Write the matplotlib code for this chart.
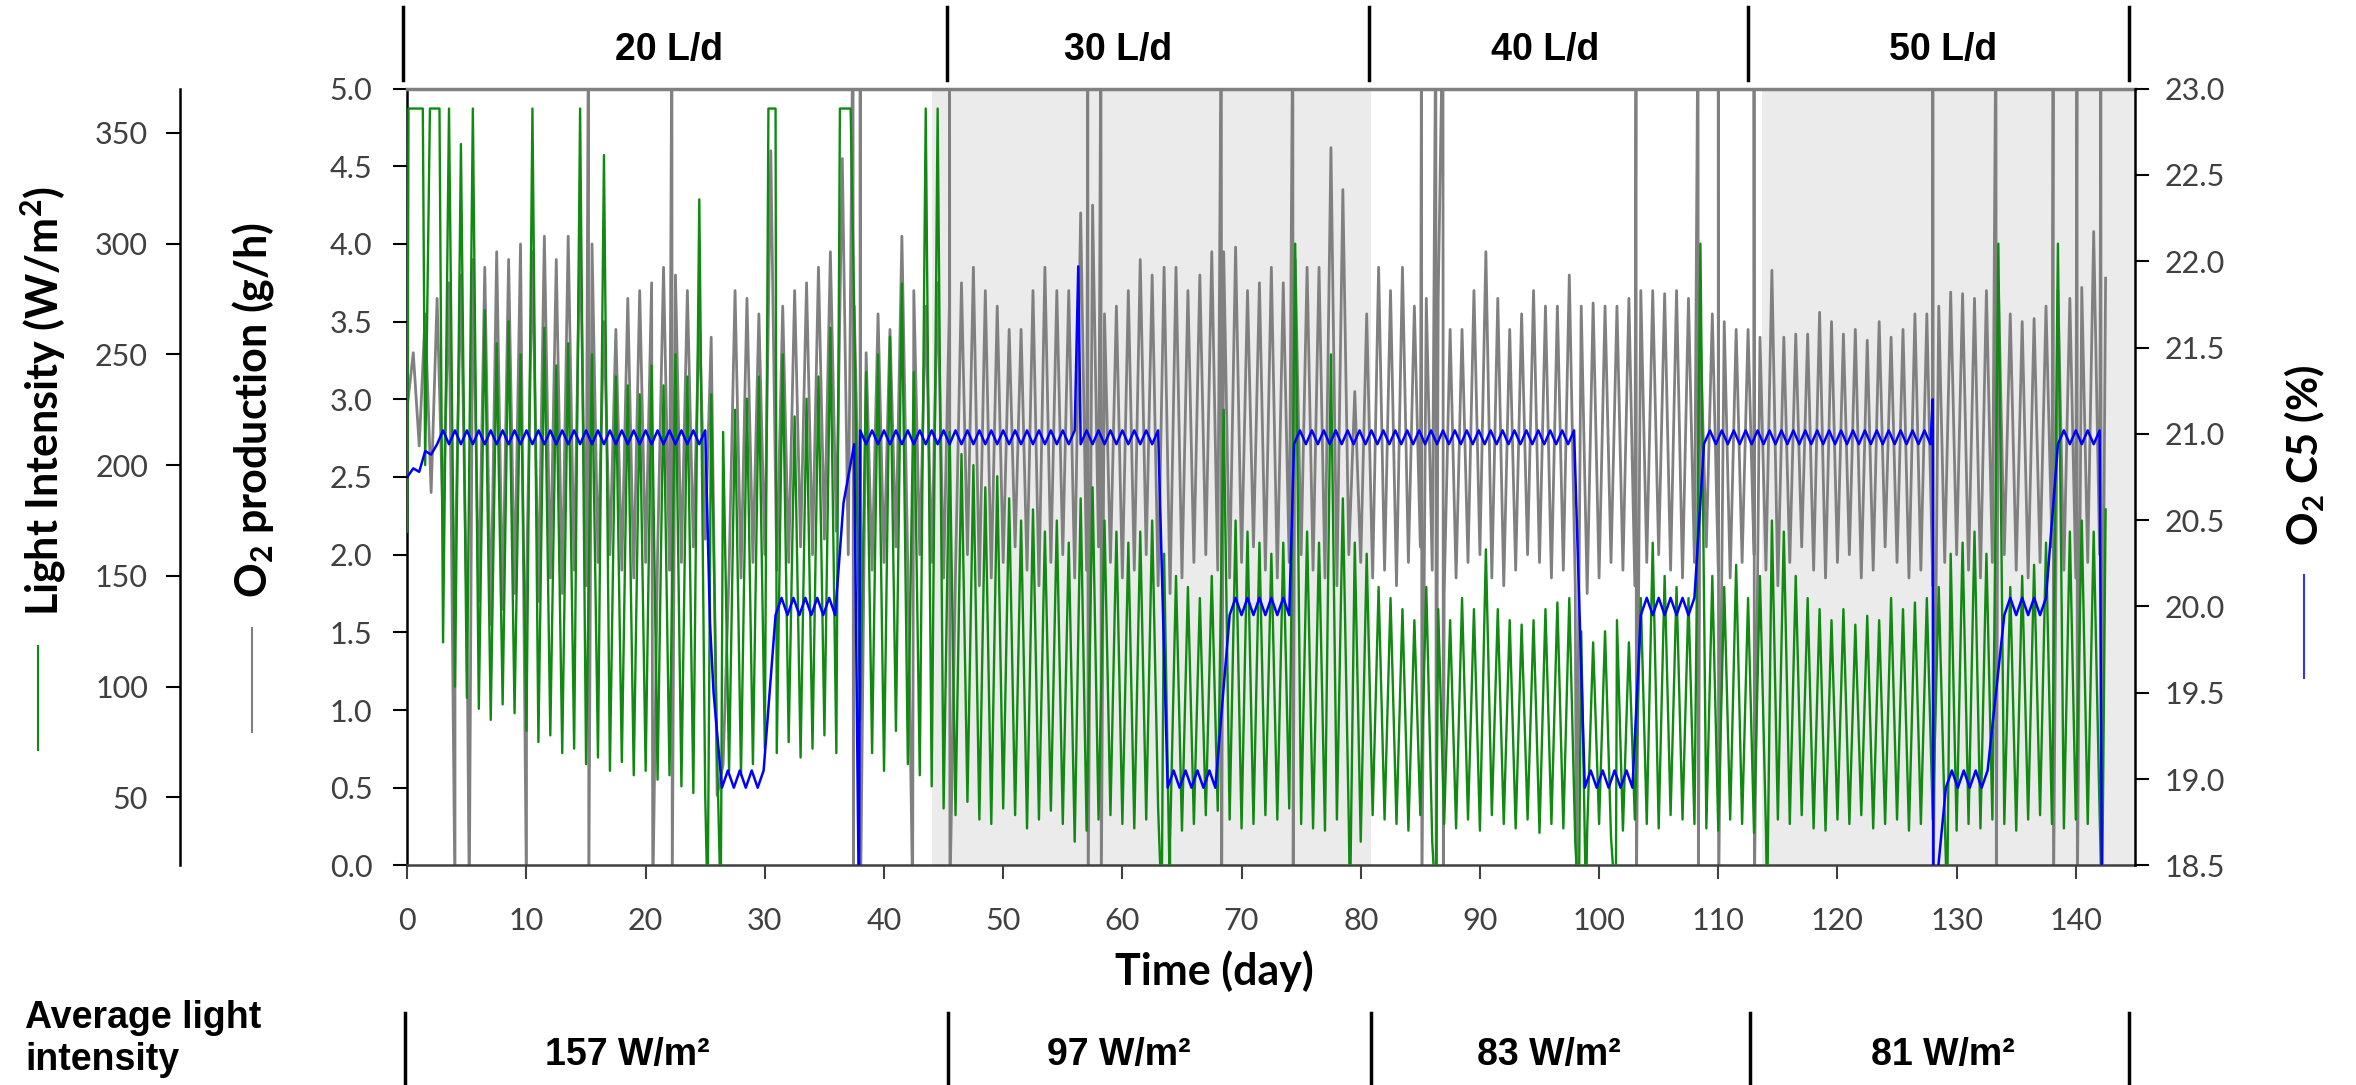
import matplotlib
matplotlib.use('Agg')
import matplotlib.pyplot as plt
from matplotlib.lines import Line2D

plt.rcParams['font.family'] = ['Lato', 'DejaVu Sans']
plt.rcParams['mathtext.fontset'] = 'custom'
plt.rcParams['mathtext.rm'] = 'Lato'
plt.rcParams['mathtext.bf'] = 'Lato:bold'

# daily peak / trough of O2 production (g/h), day 0..142
GRAY_HI = [3.30, 3.55, 3.65, 3.75, 3.80, 3.90, 3.85, 3.95, 3.90, 4.00,
           3.95, 4.05, 3.90, 4.05, 4.10, 4.00, 3.50, 3.45, 3.65, 3.70,
           3.75, 3.85, 3.80, 3.70, 3.55, 3.40, 0.65, 3.70, 3.65, 3.55,
           4.60, 3.60, 3.70, 3.75, 3.85, 3.95, 4.55, 3.60, 3.30, 3.55,
           3.45, 4.05, 3.70, 3.60, 3.75, 3.65, 3.75, 3.85, 3.70, 3.60,
           3.45, 3.45, 3.70, 3.85, 3.70, 3.70, 4.20, 4.25, 3.55, 3.60,
           3.70, 3.90, 3.80, 3.85, 3.85, 3.70, 3.80, 3.95, 3.95, 3.98,
           3.70, 3.75, 3.85, 3.75, 3.90, 3.85, 3.85, 4.62, 4.35, 3.05,
           3.55, 3.85, 3.70, 3.85, 3.60, 3.65, 3.65, 3.45, 3.45, 3.70,
           3.95, 3.65, 3.45, 3.55, 3.70, 3.60, 3.60, 3.80, 3.60, 3.62,
           3.60, 3.60, 3.65, 3.70, 3.70, 3.68, 3.70, 3.65, 3.40, 3.55,
           3.50, 3.45, 3.45, 3.40, 3.83, 3.40, 3.42, 3.42, 3.56, 3.50,
           3.42, 3.45, 3.38, 3.50, 3.40, 3.45, 3.55, 3.55, 3.60, 3.69,
           3.68, 3.65, 3.70, 3.75, 3.55, 3.50, 3.52, 3.60, 3.70, 3.65,
           3.72, 4.08, 3.78]
GRAY_LO = [2.95, 2.70, 2.40, 2.20, 1.90, 1.60, 1.70, 1.55, 1.65, 1.75,
           1.80, 1.70, 1.85, 1.75, 1.90, 1.80, 1.95, 2.00, 1.90, 1.85,
           1.95, 2.00, 1.90, 1.95, 2.05, 2.10, 0.45, 1.90, 1.85, 1.95,
           2.00, 1.90, 1.95, 2.05, 2.00, 2.10, 2.15, 2.00, 1.85, 1.90,
           1.95, 2.05, 1.90, 2.00, 1.95, 1.85, 1.90, 2.00, 1.80, 1.85,
           1.95, 2.05, 1.90, 1.80, 1.95, 2.00, 1.85, 1.90, 2.05, 1.95,
           1.85, 1.90, 2.00, 1.80, 1.75, 1.85, 1.95, 2.00, 1.90, 1.85,
           1.95, 2.05, 1.90, 1.85, 1.95, 2.00, 1.90, 1.85, 1.80, 2.00,
           1.95, 1.85, 1.90, 1.80, 1.95, 2.05, 1.90, 1.75, 1.85, 1.95,
           2.00, 1.85, 1.80, 1.90, 2.00, 1.95, 1.85, 1.90, 1.80, 1.75,
           1.85, 1.95, 1.90, 1.80, 1.95, 2.00, 1.90, 1.85, 1.95, 2.05,
           1.90, 1.85, 1.95, 2.00, 1.90, 1.80, 1.95, 2.05, 1.90, 1.85,
           1.95, 2.00, 1.85, 1.90, 2.05, 1.95, 1.85, 1.90, 1.80, 1.95,
           2.00, 1.90, 1.85, 1.95, 2.00, 1.90, 1.85, 1.95, 2.05, 1.90,
           1.85, 1.95, 2.00]
# days where the O2 signal shoots over the full scale, and where it drops to zero
GRAY_FULL_DAYS = [15.2, 22.2, 37.4, 38.0, 45.5, 57.1, 58.2, 68.3, 74.3, 85.1, 86.3,
                  86.9, 103.1, 108.3, 110.0, 113.0, 128.0, 133.3, 138.1, 140.1, 142.1]
GRAY_ZERO_DAYS = [4.0, 5.2, 10.0, 20.6, 42.4, 98.1]

# daily peak / trough of light intensity (W/m2)
GREEN_HI = [361, 200, 361, 361, 345, 361, 270, 255, 265, 250,
            361, 262, 245, 255, 361, 250, 340, 240, 236, 232,
            245, 236, 250, 240, 320, 232, 215, 225, 230, 240,
            361, 250, 222, 230, 240, 262, 361, 270, 242, 250,
            258, 282, 242, 361, 361, 215, 205, 200, 190, 195,
            185, 175, 180, 170, 175, 165, 185, 190, 175, 170,
            165, 170, 175, 160, 150, 145, 140, 150, 225, 175,
            170, 165, 160, 165, 300, 170, 165, 250, 185, 165,
            160, 145, 140, 135, 130, 145, 135, 130, 140, 135,
            162, 135, 130, 128, 130, 135, 138, 140, 125, 120,
            125, 130, 120, 140, 165, 150, 145, 140, 300, 150,
            145, 155, 140, 150, 175, 170, 150, 140, 135, 130,
            135, 128, 132, 130, 140, 135, 138, 140, 145, 160,
            165, 170, 160, 300, 145, 150, 155, 165, 300, 170,
            175, 170, 180]
GREEN_LO = [170, 150, 135, 120, 100, 95, 90, 85, 92, 88,
            80, 75, 78, 70, 72, 65, 68, 62, 66, 60,
            62, 58, 60, 55, 52, 50, 68, 62, 60, 65,
            72, 70, 75, 68, 72, 78, 70, 74, 85, 70,
            62, 80, 65, 60, 55, 45, 42, 48, 40, 38,
            45, 42, 36, 40, 44, 38, 30, 35, 40, 42,
            38, 36, 40, 45, 30, 35, 38, 42, 44, 40,
            36, 38, 42, 40, 45, 38, 36, 35, 40, 38,
            30, 42, 40, 38, 35, 42, 30, 38, 36, 40,
            35, 42, 38, 36, 40, 34, 38, 36, 30, 35,
            38, 32, 35, 40, 38, 36, 42, 40, 38, 36,
            35, 40, 38, 34, 35, 40, 38, 42, 36, 35,
            40, 38, 42, 36, 38, 40, 35, 38, 40, 42,
            35, 38, 36, 40, 38, 35, 40, 42, 38, 36,
            40, 38, 42]
GREEN_TOP = 361
GREEN_PLATEAUS = [(0.1, 1.3), (1.9, 2.7), (30.3, 30.9), (36.3, 37.2)]
GREEN_ZERO_DAYS = [25.2, 26.3, 63.3, 64.0, 79.1, 86.3, 98.3, 98.9, 101.4, 114.1, 129.2, 142.2]

# O2 C5 (%): start-up ramp, plateaus (start, end, low, high) and single excursions
BLUE_START = [(0.0, 20.75), (0.5, 20.80), (1.0, 20.78), (1.5, 20.90), (2.0, 20.88)]
BLUE_STEPS = [(2.5, 25.3, 20.94, 21.02),
              (26.4, 30.2, 18.95, 19.05),
              (30.9, 36.3, 19.95, 20.05),
              (37.5, 63.4, 20.94, 21.02),
              (63.8, 68.2, 18.95, 19.05),
              (69.0, 74.1, 19.95, 20.05),
              (74.4, 98.3, 20.94, 21.02),
              (98.8, 103.0, 18.95, 19.05),
              (103.5, 108.2, 19.95, 20.05),
              (108.8, 127.9, 20.94, 21.02),
              (129.1, 133.0, 18.95, 19.05),
              (134.0, 137.9, 19.95, 20.05),
              (138.5, 142.1, 20.94, 21.02)]
BLUE_EVENTS = [(25.4, 19.9), (25.7, 19.5), (36.6, 20.6), (37.9, 18.2), (56.3, 21.97),
               (128.0, 21.2), (128.05, 18.2), (142.2, 18.2)]

PERIODS = ['20 L/d', '30 L/d', '40 L/d', '50 L/d']
AVG_LIGHT = ['157 W/m²', '97 W/m²', '83 W/m²', '81 W/m²']
SHADED = [(44.0, 80.9), (113.7, 145.0)]


def daily(lo, hi, top, bottom, full=(), zero=(), plateaus=()):
    pts = []
    for d in range(min(len(lo), len(hi))):
        pts.append((d, lo[d]))
        pts.append((d + 0.5, hi[d]))
    for t0, t1 in plateaus:
        pts = [p for p in pts if not (t0 <= p[0] <= t1)]
        pts += [(t0, top), (t1, top)]
    for t in full:
        pts += [(t, top), (t + 0.03, bottom)]
    for t in zero:
        pts.append((t, bottom))
    pts.sort()
    return [p[0] for p in pts], [p[1] for p in pts]


gx, gy = daily(GRAY_LO, GRAY_HI, 5.6, -0.2, GRAY_FULL_DAYS, GRAY_ZERO_DAYS)
lx, ly = daily(GREEN_LO, GREEN_HI, GREEN_TOP, 0, zero=GREEN_ZERO_DAYS,
               plateaus=GREEN_PLATEAUS)

bpts = list(BLUE_START)
for s, e, lo, hi in BLUE_STEPS:
    k = 0
    while s + 0.5 * k <= e:
        bpts.append((s + 0.5 * k, hi if k % 2 else lo))
        k += 1
bpts += BLUE_EVENTS
bpts.sort()
bx = [p[0] for p in bpts]
by = [p[1] for p in bpts]

W, H = 2356, 1085
fig = plt.figure(figsize=(W / 100, H / 100), dpi=100)


def fx(x):
    return x / W


def fy(y):
    return 1 - y / H


ax = fig.add_axes([fx(407.3), fy(865.4), (2135.4 - 407.3) / W, (865.4 - 88.6) / H])
ax_l = ax.twinx()
ax_r = ax.twinx()

for s0, s1 in SHADED:
    ax.axvspan(s0, s1, color='#ebebeb', lw=0, zorder=0)

ax.plot(gx, gy, color='#808080', lw=2.0, zorder=2)
ax_l.plot(lx, ly, color='#108a10', lw=1.7)
ax_r.plot(bx, by, color='#0000ff', lw=1.8)

ax.set_xlim(0, 145)
ax.set_ylim(0, 5)
ax.set_yticks([i * 0.5 for i in range(11)])
ax.set_yticklabels([f'{i * 0.5:.1f}' for i in range(11)])
ax.set_xticks(range(0, 141, 10))
ax_l.set_ylim(19.3, 370)
ax_l.set_yticks(range(50, 351, 50))
ax_r.set_ylim(18.5, 23.0)
ax_r.set_yticks([18.5 + i * 0.5 for i in range(10)])
ax_r.set_yticklabels([f'{18.5 + i * 0.5:.1f}' for i in range(10)])

tick_col = '#404040'
ax.tick_params(axis='y', direction='out', length=10, width=1.5, pad=15,
               labelsize=22, labelcolor=tick_col)
ax.tick_params(axis='x', direction='out', length=10, width=1.5, pad=20,
               labelsize=22, labelcolor=tick_col, colors='#404040')
ax_l.yaxis.set_ticks_position('left')
ax_l.spines['left'].set_position(('axes', (180 - 407.3) / (2135.4 - 407.3)))
ax_l.tick_params(axis='y', direction='out', length=10, width=1.5, pad=13,
                 labelsize=22, labelcolor=tick_col)
ax_r.tick_params(axis='y', direction='out', length=10, width=1.5, pad=11,
                 labelsize=22, labelcolor=tick_col)

for a in (ax_l, ax_r):
    a.spines['top'].set_visible(False)
    a.spines['bottom'].set_visible(False)
ax_l.spines['right'].set_visible(False)
ax_r.spines['left'].set_visible(False)
ax.spines['right'].set_visible(False)
ax.spines['top'].set_color('#808080')
ax.spines['top'].set_linewidth(2.5)
ax.spines['bottom'].set_color('#404040')
ax.spines['bottom'].set_linewidth(1.8)
ax.spines['left'].set_linewidth(1.8)
ax_l.spines['left'].set_linewidth(1.8)
ax_r.spines['right'].set_linewidth(1.8)

# axis titles with their colour keys
fig.text(fx(43), fy(401), 'Light Intensity (W/m$^\\mathbf{2}$)', rotation=90,
         ha='center', va='center', fontsize=31, fontweight='bold')
fig.text(fx(253), fy(410), 'O$_\\mathbf{2}$ production (g/h)', rotation=90,
         ha='center', va='center', fontsize=31, fontweight='bold')
fig.text(fx(2305), fy(455), 'O$_\\mathbf{2}$ C5 (%)', rotation=90,
         ha='center', va='center', fontsize=30, fontweight='bold')
fig.text(fx(1214), fy(971), 'Time (day)', ha='center', va='center',
         fontsize=31, fontweight='bold')
fig.add_artist(Line2D([fx(38), fx(38)], [fy(646), fy(750)], color='#108a10', lw=1.5))
fig.add_artist(Line2D([fx(252), fx(252)], [fy(628), fy(732)], color='#808080', lw=1.5))
fig.add_artist(Line2D([fx(2304), fx(2304)], [fy(575), fy(678)], color='#3333ff', lw=1.5))

# flow-rate periods on top, average light below
top_div = [403, 947, 1369, 1748, 2129]
for x in top_div:
    fig.add_artist(Line2D([fx(x), fx(x)], [fy(7), fy(80)], color='black', lw=2.5))
for x, lab in zip([615, 1064, 1491, 1889], PERIODS):
    fig.text(fx(x), fy(60), lab, ha='left', va='baseline', fontsize=27,
             fontweight='bold', family='Liberation Sans')

bot_div = [405, 948, 1371, 1750, 2129]
for x in bot_div:
    fig.add_artist(Line2D([fx(x), fx(x)], [fy(1013), fy(1085)], color='black', lw=2.5))
for x, lab in zip([545, 1047, 1477, 1871], AVG_LIGHT):
    fig.text(fx(x), fy(1065), lab, ha='left', va='baseline', fontsize=27,
             fontweight='bold', family='Liberation Sans')
fig.text(fx(25), fy(1028), 'Average light', ha='left', va='baseline', fontsize=27,
         fontweight='bold', family='Liberation Sans')
fig.text(fx(25), fy(1070), 'intensity', ha='left', va='baseline', fontsize=27,
         fontweight='bold', family='Liberation Sans')

fig.savefig('out.png', dpi=100)
